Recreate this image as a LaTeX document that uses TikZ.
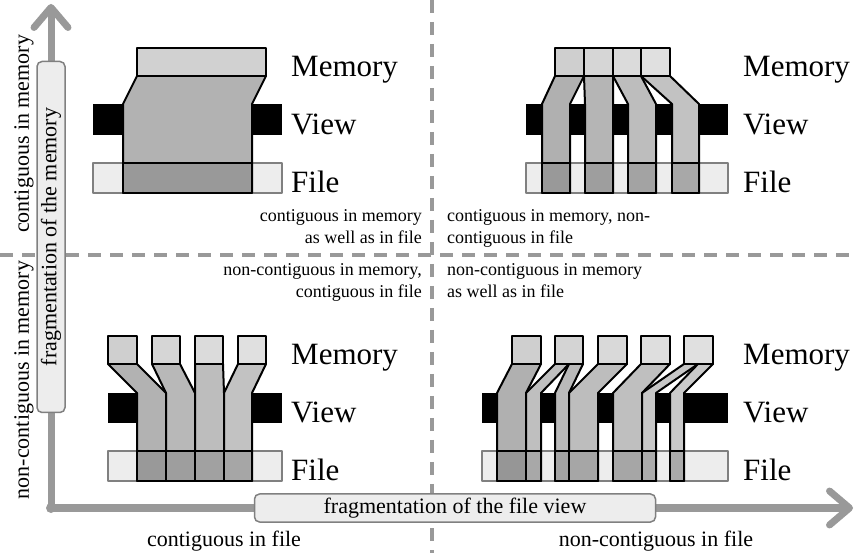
\documentclass[tikz,border=0pt]{standalone}
\usepackage{fontspec}
\setmainfont{Liberation Serif}
\usepackage{tikz}
\usetikzlibrary{arrows.meta}

\begin{document}
\begin{tikzpicture}[x=1pt,y=-1pt,line join=round,
        >={Straight Barb[length=20pt,width=34pt,round]}]
    \tikzstyle{rowname}=[font=\fontsize{31}{36}\selectfont,anchor=base west,inner sep=0pt]
    \tikzstyle{note}=[font=\fontsize{18}{22}\selectfont,inner sep=0pt]
    \tikzstyle{axistext}=[font=\fontsize{22}{26}\selectfont,inner sep=0pt]
    \tikzstyle{axisbox}=[axistext,draw=black!50,fill=black!7,line width=1.5pt,rounded corners=5pt,minimum height=28pt]
    \tikzstyle{axisline}=[->,draw=black!40,line width=7pt]
    \tikzstyle{divider}=[draw=black!40,line width=3.5pt,dash pattern=on 13pt off 9pt]
    \tikzstyle{filebar}=[draw=black!50,fill=black!7,line width=2pt]
    \tikzstyle{block}=[draw=black,line width=2pt]

    \useasboundingbox (0,0) rectangle (855,553);

    % dashed quadrant borders
    \coordinate (vtop) at (432,0);
    \coordinate (vbot) at (432,553);
    \coordinate (hleft) at (0,255);
    \coordinate (hright) at (855,255);
    \draw[divider] (vtop) -- (vbot);
    \draw[divider] (hleft) -- (hright);

    % axes
    \coordinate (origin) at (51,508);
    \coordinate (ytip) at (51,4);
    \coordinate (xtip) at (853,508);
    \draw[axisline] (origin) -- (ytip);
    \draw[axisline] (origin) -- (xtip);
    \fill[black!40] (origin) circle (5pt);
    \node[axisbox,rotate=90,minimum width=351pt] (ybox) at (51,237) {fragmentation of the memory};
    \node[axisbox,minimum width=401pt]          (xbox) at (455,508) {fragmentation of the file view};
    \node[axistext,rotate=90] (ytop) at (24,134) {contiguous in memory};
    \node[axistext,rotate=90] (ybot) at (24,380) {non-contiguous in memory};
    \node[axistext,anchor=base] (xleft)  at (224,546) {contiguous in file};
    \node[axistext,anchor=base] (xright) at (656,546) {non-contiguous in file};

    % quadrant notes
    \node[note,anchor=north east,align=right] (tlnote) at (422,209) {contiguous in memory\\as well as in file};
    \node[note,anchor=north west,align=left]  (trnote) at (447,209) {contiguous in memory, non-\\contiguous in file};
    \node[note,anchor=north east,align=right] (blnote) at (422,263) {non-contiguous in memory,\\contiguous in file};
    \node[note,anchor=north west,align=left]  (brnote) at (447,263) {non-contiguous in memory\\as well as in file};

    % top left: contiguous / contiguous
    \fill (93,104) rectangle (282,135);
    \draw[filebar] (93,163) rectangle (282,193);
    \draw[block,fill=black!30] (137,76) -- (266,76) -- (252,104) -- (252,193) -- (123,193) -- (123,104) -- cycle;
    \draw[block,fill=black!40] (123,163) rectangle (252,193);
    \draw[block,fill=black!18] (137,48) rectangle (266,76);
    \node[rowname] (tlmem)  at (291,77)  {Memory};
    \node[rowname] (tlview) at (291,135) {View};
    \node[rowname] (tlfile) at (291,193) {File};

    % top right: contiguous memory, strided file
    \fill (526,104) rectangle (728,135);
    \draw[filebar] (526,163) rectangle (728,193);
    \draw[block,fill=black!31] (555,76) -- (584,76) -- (570,104) -- (570,193) -- (542,193) -- (542,104) -- cycle;
    \draw[block,fill=black!29] (584,76) -- (613,76) -- (613,104) -- (613,193) -- (585,193) -- (585,104) -- cycle;
    \draw[block,fill=black!26] (613,76) -- (641,76) -- (656,104) -- (656,193) -- (628,193) -- (628,104) -- cycle;
    \draw[block,fill=black!24] (641,76) -- (670,76) -- (699,104) -- (699,193) -- (672,193) -- (672,104) -- cycle;
    \draw[block,fill=black!40] (542,163) rectangle (570,193);
    \draw[block,fill=black!38] (585,163) rectangle (613,193);
    \draw[block,fill=black!36] (628,163) rectangle (656,193);
    \draw[block,fill=black!34] (672,163) rectangle (699,193);
    \draw[block,fill=black!19] (555,48) rectangle (584,76);
    \draw[block,fill=black!16] (584,48) rectangle (613,76);
    \draw[block,fill=black!14] (613,48) rectangle (641,76);
    \draw[block,fill=black!12] (641,48) rectangle (670,76);
    \node[rowname] (trmem)  at (743,77)  {Memory};
    \node[rowname] (trview) at (743,135) {View};
    \node[rowname] (trfile) at (743,193) {File};

    % bottom left: scattered memory, contiguous file
    \fill (108,393) rectangle (282,423);
    \draw[filebar] (108,451) rectangle (282,481);
    \draw[block,fill=black!30] (108,364) -- (137,364) -- (166,393) -- (166,481) -- (137,481) -- (137,393) -- cycle;
    \draw[block,fill=black!28] (152,364) -- (180,364) -- (195,393) -- (195,481) -- (166,481) -- (166,393) -- cycle;
    \draw[block,fill=black!26] (195,364) -- (223,364) -- (224,393) -- (224,481) -- (195,481) -- (195,393) -- cycle;
    \draw[block,fill=black!24] (238,364) -- (266,364) -- (252,393) -- (252,481) -- (224,481) -- (224,393) -- cycle;
    \draw[block,fill=black!40] (137,451) rectangle (166,481);
    \draw[block,fill=black!38] (166,451) rectangle (195,481);
    \draw[block,fill=black!37] (195,451) rectangle (224,481);
    \draw[block,fill=black!35] (224,451) rectangle (252,481);
    \draw[block,fill=black!19] (108,336) rectangle (137,364);
    \draw[block,fill=black!16] (152,336) rectangle (180,364);
    \draw[block,fill=black!14] (195,336) rectangle (223,364);
    \draw[block,fill=black!12] (238,336) rectangle (266,364);
    \node[rowname] (blmem)  at (291,365) {Memory};
    \node[rowname] (blview) at (291,423) {View};
    \node[rowname] (blfile) at (291,481) {File};

    % bottom right: scattered memory, strided file
    \fill (482,393) rectangle (728,423);
    \draw[filebar] (482,451) rectangle (728,481);
    \draw[block,fill=black!31] (512,364) -- (541,364) -- (526,393) -- (526,481) -- (497,481) -- (497,393) -- cycle;
    \draw[block,fill=black!25] (555,364) -- (569,364) -- (541,393) -- (541,481) -- (526,481) -- (526,393) -- cycle;
    \draw[block,fill=black!27] (569,364) -- (583,364) -- (569,393) -- (569,481) -- (555,481) -- (555,393) -- cycle;
    \draw[block,fill=black!26] (598,364) -- (627,364) -- (598,393) -- (598,481) -- (569,481) -- (569,393) -- cycle;
    \draw[block,fill=black!25] (641,364) -- (670,364) -- (642,393) -- (642,481) -- (613,481) -- (613,393) -- cycle;
    \draw[block,fill=black!22] (684,364) -- (698,364) -- (656,393) -- (656,481) -- (642,481) -- (642,393) -- cycle;
    \draw[block,fill=black!21] (698,364) -- (713,364) -- (684,393) -- (684,481) -- (670,481) -- (670,393) -- cycle;
    \draw[block,fill=black!41] (497,451) rectangle (526,481);
    \draw[block,fill=black!34] (526,451) rectangle (541,481);
    \draw[block,fill=black!36] (555,451) rectangle (569,481);
    \draw[block,fill=black!35] (569,451) rectangle (598,481);
    \draw[block,fill=black!35] (613,451) rectangle (642,481);
    \draw[block,fill=black!33] (642,451) rectangle (656,481);
    \draw[block,fill=black!33] (670,451) rectangle (684,481);
    \draw[block,fill=black!19] (512,336) rectangle (541,364);
    \draw[block,fill=black!17] (555,336) rectangle (583,364);
    \draw[block,fill=black!15] (598,336) rectangle (627,364);
    \draw[block,fill=black!13] (641,336) rectangle (670,364);
    \draw[block,fill=black!12] (684,336) rectangle (713,364);
    \node[rowname] (brmem)  at (743,365) {Memory};
    \node[rowname] (brview) at (743,423) {View};
    \node[rowname] (brfile) at (743,481) {File};
\end{tikzpicture}
\end{document}
